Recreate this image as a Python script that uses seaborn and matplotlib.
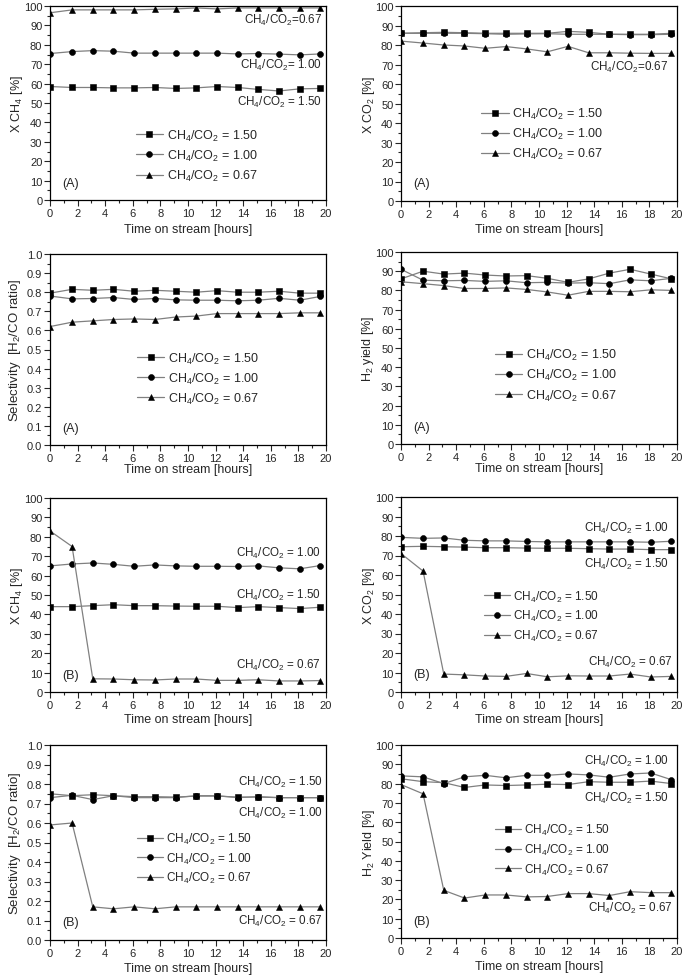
import matplotlib
matplotlib.use("Agg")
import matplotlib.pyplot as plt
import seaborn as sns
import pandas as pd
from matplotlib.ticker import MultipleLocator, FormatStrFormatter

sns.set_style("ticks")
plt.rcParams['font.family'] = ['Liberation Sans', 'DejaVu Sans']
plt.rcParams['mathtext.fontset'] = 'custom'
plt.rcParams['mathtext.rm'] = 'Liberation Sans'
plt.rcParams['mathtext.it'] = 'Liberation Sans:italic'
plt.rcParams['mathtext.bf'] = 'Liberation Sans:bold'

# ---------------- data ----------------
time_h = [0, 1.6, 3.1, 4.6, 6.1, 7.6, 9.1, 10.6, 12.1, 13.6, 15.1, 16.6, 18.1, 19.6]
ratios = ["1.50", "1.00", "0.67"]

xch4_A_150 = [58.5, 58, 58, 57.8, 57.8, 58, 57.5, 57.8, 58.5, 58, 57, 56.2, 57.3, 57.5]
xch4_A_100 = [75.5, 76.5, 77, 76.7, 75.7, 75.7, 75.7, 75.7, 75.7, 75.3, 75.5, 75.2, 74.8, 75.3]
xch4_A_067 = [96.5, 98, 98, 98, 98, 98.3, 98.5, 99, 98.5, 99, 99, 99, 99, 99]

xco2_A_150 = [86, 86.3, 86.5, 86.3, 86, 86, 86, 86, 87, 86.5, 85.5, 85.5, 85.5, 86]
xco2_A_100 = [86, 86, 86, 86, 85.8, 85.5, 85.7, 85.8, 85.5, 85.5, 85.5, 85.3, 85.3, 85.5]
xco2_A_067 = [82, 81, 80, 79.5, 78.3, 79.2, 78, 76.5, 79.3, 76, 76, 75.8, 75.7, 75.7]

sel_A_150 = [0.795, 0.815, 0.81, 0.815, 0.805, 0.81, 0.805, 0.80, 0.808, 0.80, 0.80, 0.805, 0.795, 0.795]
sel_A_100 = [0.78, 0.765, 0.767, 0.772, 0.762, 0.767, 0.76, 0.758, 0.758, 0.755, 0.758, 0.768, 0.758, 0.778]
sel_A_067 = [0.62, 0.643, 0.65, 0.657, 0.66, 0.657, 0.67, 0.675, 0.688, 0.688, 0.688, 0.688, 0.692, 0.692]

h2_A_150 = [86, 90, 88.5, 89, 88, 87.5, 87.7, 86.3, 84.2, 86, 89, 91, 88.5, 86]
h2_A_100 = [91, 85.3, 85, 85.2, 84.7, 85, 84, 84.2, 83.8, 84, 83.5, 85.5, 85, 86.3]
h2_A_067 = [84.5, 83.5, 82.5, 81, 81, 81.3, 80.5, 79.2, 77.5, 79.5, 79.5, 79.3, 80.3, 80]

xch4_B_150 = [44, 44, 44.5, 45, 44.5, 44.5, 44.3, 44.2, 44.2, 43.5, 44, 43.5, 43, 43.7]
xch4_B_100 = [65, 66, 66.5, 65.8, 64.8, 65.5, 65, 64.8, 64.8, 64.7, 65, 64, 63.5, 65.2]
xch4_B_067 = [83, 75, 6.8, 6.7, 6.3, 6.2, 6.7, 6.7, 6.0, 6.0, 6.3, 5.7, 5.7, 5.9]

xco2_B_150 = [74.5, 74.7, 74.5, 74.3, 74, 74, 73.8, 73.7, 73.7, 73.5, 73.3, 73.3, 73, 73]
xco2_B_100 = [79.3, 78.8, 79, 77.8, 77.5, 77.5, 77.2, 77, 77, 77, 77, 77, 76.8, 77.3]
xco2_B_067 = [71, 62, 9.2, 8.8, 8.2, 8, 9.5, 7.8, 8.3, 8.2, 8.2, 9.2, 7.7, 8]

sel_B_150 = [0.75, 0.74, 0.745, 0.74, 0.735, 0.735, 0.733, 0.738, 0.738, 0.733, 0.733, 0.73, 0.73, 0.73]
sel_B_100 = [0.73, 0.742, 0.72, 0.74, 0.73, 0.73, 0.73, 0.74, 0.74, 0.73, 0.735, 0.73, 0.73, 0.73]
sel_B_067 = [0.59, 0.60, 0.17, 0.16, 0.17, 0.16, 0.17, 0.17, 0.17, 0.17, 0.17, 0.17, 0.17, 0.17]

h2_B_150 = [82.5, 81, 80.5, 78, 79.3, 79, 79.3, 79.7, 79.5, 81, 80.7, 80.7, 81.3, 80]
h2_B_100 = [84, 83.5, 80, 83.5, 84.3, 83, 84.3, 84.3, 85, 84.5, 83.3, 85, 85.5, 82]
h2_B_067 = [79.5, 74.7, 24.7, 20.7, 22.3, 22.3, 21.3, 21.5, 23, 23, 22, 24, 23.5, 23.5]

xlabel = "Time on stream [hours]"
sel_label = "Selectivity  [H$_2$/CO ratio]"
ylabels = ["X CH$_4$ [%]", "X CO$_2$ [%]",
           sel_label, "H$_2$ yield [%]",
           "X CH$_4$ [%]", "X CO$_2$ [%]",
           sel_label, "H$_2$ Yield [%]"]
panel_tags = ["(A)", "(A)", "(A)", "(A)", "(B)", "(B)", "(B)", "(B)"]

series = [
    (xch4_A_150, xch4_A_100, xch4_A_067),
    (xco2_A_150, xco2_A_100, xco2_A_067),
    (sel_A_150, sel_A_100, sel_A_067),
    (h2_A_150, h2_A_100, h2_A_067),
    (xch4_B_150, xch4_B_100, xch4_B_067),
    (xco2_B_150, xco2_B_100, xco2_B_067),
    (sel_B_150, sel_B_100, sel_B_067),
    (h2_B_150, h2_B_100, h2_B_067),
]

# ---------------- layout ----------------
W, H = 685, 978
fig = plt.figure(figsize=(W / 100, H / 100), dpi=100)

def px_axes(l, t, r, b):
    return fig.add_axes([l / W, 1 - b / H, (r - l) / W, (b - t) / H])

boxes = [
    (50, 7, 326, 201), (401, 7, 677, 202),
    (50, 255, 326, 446), (401, 253, 677, 445),
    (50, 499, 326, 693), (401, 498, 677, 693),
    (50, 746, 326, 941), (401, 746, 677, 939),
]
xlab_off = [29, 28, 24, 24, 27, 27, 28, 28]
ylab_dist = [33, 32, 35, 33, 33, 32, 35, 32]

markers = ['s', 'o', '^']
msizes = [4.0, 4.3, 4.5]
lab = lambda r: "CH$_4$/CO$_2$ = " + r

legend_pos = [(0.31, 0.23), (0.29, 0.345), (0.315, 0.35), (0.34, 0.36),
              None, (0.30, 0.39), (0.315, 0.42), (0.34, 0.46)]
legend_fs = [9, 9, 9, 9, 9, 8.5, 8.5, 8.5]

annots = [
    [("CH$_4$/CO$_2$=0.67", 0.985, 0.93), ("CH$_4$/CO$_2$= 1.00", 0.985, 0.70),
     ("CH$_4$/CO$_2$ = 1.50", 0.985, 0.51)],
    [("CH$_4$/CO$_2$=0.67", 0.97, 0.69)],
    [], [],
    [("CH$_4$/CO$_2$ = 1.00", 0.98, 0.72), ("CH$_4$/CO$_2$ = 1.50", 0.98, 0.505),
     ("CH$_4$/CO$_2$ = 0.67", 0.98, 0.14)],
    [("CH$_4$/CO$_2$ = 1.00", 0.97, 0.845), ("CH$_4$/CO$_2$ = 1.50", 0.97, 0.66),
     ("CH$_4$/CO$_2$ = 0.67", 0.985, 0.155)],
    [("CH$_4$/CO$_2$ = 1.50", 0.99, 0.815), ("CH$_4$/CO$_2$ = 1.00", 0.99, 0.655),
     ("CH$_4$/CO$_2$ = 0.67", 0.99, 0.10)],
    [("CH$_4$/CO$_2$ = 1.00", 0.97, 0.92), ("CH$_4$/CO$_2$ = 1.50", 0.97, 0.73),
     ("CH$_4$/CO$_2$ = 0.67", 0.985, 0.16)],
]

FS = 9.0
AFS = 8.4
for i, box in enumerate(boxes):
    ax = px_axes(*box)
    frac = i in (2, 6)
    for vals, r, m, ms in zip(series[i], ratios, markers, msizes):
        df = pd.DataFrame({"t": time_h, "v": vals})
        sns.lineplot(data=df, x="t", y="v", ax=ax, color="#808080", linewidth=0.9,
                     marker=m, markersize=ms,
                     markerfacecolor="black", markeredgecolor="black",
                     markeredgewidth=0.4, label=lab(r), legend=False)
    ax.set_xlim(0, 20)
    if frac:
        ax.set_ylim(0, 1.0)
        ax.yaxis.set_major_locator(MultipleLocator(0.1))
        ax.yaxis.set_minor_locator(MultipleLocator(0.05))
        ax.yaxis.set_major_formatter(FormatStrFormatter('%.1f'))
    else:
        ax.set_ylim(0, 100)
        ax.yaxis.set_major_locator(MultipleLocator(10))
        ax.yaxis.set_minor_locator(MultipleLocator(5))
    ax.xaxis.set_major_locator(MultipleLocator(2))
    ax.xaxis.set_minor_locator(MultipleLocator(1))
    ax.tick_params(which='major', direction='out', length=4, width=0.8, labelsize=8, pad=1.5)
    ax.tick_params(which='minor', direction='out', length=2, width=0.8)
    for s in ax.spines.values():
        s.set_visible(True)
        s.set_linewidth(0.9)
        s.set_color('black')
    ax.set_xlabel(xlabel, fontsize=FS, va='center')
    ax.xaxis.set_label_coords(0.5, -xlab_off[i] / (box[3] - box[1]))
    ax.set_ylabel(ylabels[i], fontsize=9.5 if frac else FS, va='center')
    ax.yaxis.set_label_coords(-ylab_dist[i] / (box[2] - box[0]), 0.5)
    ax.text(0.045, 0.09, panel_tags[i], transform=ax.transAxes, fontsize=FS,
            ha='left', va='center')
    for txt, x, y in annots[i]:
        ax.text(x, y, txt, transform=ax.transAxes, fontsize=AFS, ha='right', va='center')
    if legend_pos[i] is not None:
        lx, ly = legend_pos[i]
        ax.legend(loc='center left', bbox_to_anchor=(lx, ly), frameon=False,
                  fontsize=legend_fs[i], handlelength=2.2, handletextpad=0.3,
                  labelspacing=0.4, borderpad=0, borderaxespad=0)

fig.savefig("out.png", dpi=100)
